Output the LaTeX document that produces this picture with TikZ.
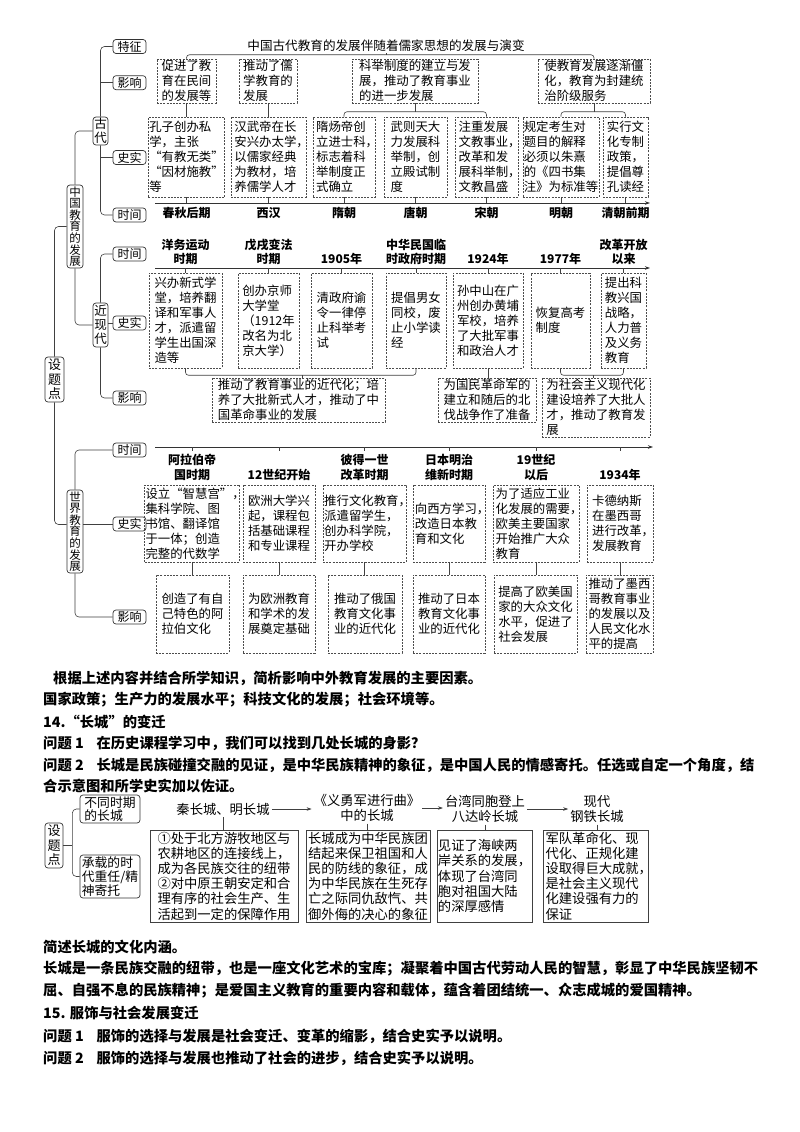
\documentclass[tikz,border=0pt]{standalone}
\usepackage{fontspec}
\setmainfont{Noto Sans CJK SC}
\usetikzlibrary{arrows.meta}
\newcommand\hc{\makebox[0.5em][l]{，}}
\newcommand\BX[7]{\node[#1, minimum width={(#4)-(#2)}, minimum height={(#5)-(#3)}] (#6) at ({((#2)+(#4))/2},{((#3)+(#5))/2}) {#7};}
\begin{document}
\begin{tikzpicture}[x=1pt,y=-1pt,
  conn/.style={line width=0.6pt, draw=black!75},
  rc/.style={conn, rounded corners=4pt},
  lbl/.style={draw=black!80, line width=0.7pt, rounded corners=3pt, inner sep=0.5pt, minimum width=33, minimum height=14, font=\fontsize{12}{13}\selectfont},
  vlbl/.style={draw=black!80, line width=0.7pt, rounded corners=3pt, inner sep=0.5pt, align=center},
  dbox/.style={draw=black!70, line width=0.55pt, dash pattern=on 2pt off 1.2pt, inner sep=1pt, align=left, font=\fontsize{12.4}{15}\selectfont},
  sbox/.style={draw=black!75, line width=0.6pt, inner sep=1pt, align=left, font=\fontsize{13.3}{15.2}\selectfont},
  tlab/.style={font=\bfseries\fontsize{12}{14.5}\selectfont, align=center, inner sep=1pt},
  tline/.style={line width=0.8pt, draw=black!80, -{Stealth[length=5pt,width=3.5pt]}},
  para/.style={anchor=west, inner sep=0pt, font=\bfseries\fontsize{14.3}{16}\selectfont},
  glab/.style={font=\fontsize{13.3}{14.5}\selectfont, align=center, inner sep=2pt},
]
\fill[white] (0,0) rectangle (800,1132);
\useasboundingbox (0,0) rectangle (800,1132);

% ---------- left tree ----------
\BX{vlbl, font=\fontsize{11.5}{11.6}\selectfont}{67}{185}{83}{268}{zg}{中\\国\\教\\育\\的\\发\\展}
\BX{vlbl, font=\fontsize{12.5}{13.5}\selectfont}{93}{117}{108}{145}{gd}{古\\代}
\BX{vlbl, font=\fontsize{12.5}{14}\selectfont}{93}{303}{108}{347}{jxd}{近\\现\\代}
\BX{vlbl, font=\fontsize{13}{14.5}\selectfont}{45}{357}{64}{402}{stp}{设\\题\\点}
\BX{vlbl, font=\fontsize{11.5}{11.6}\selectfont}{67}{490}{83}{573}{sjb}{世\\界\\教\\育\\的\\发\\展}

\node[lbl] (tz) at (129.5,46.5) {特征};
\node[lbl] (yxA) at (129.5,82.7) {影响};
\node[lbl] (ssA) at (129.5,157.5) {史实};
\node[lbl] (sjA) at (129.5,215) {时间};
\node[lbl] (tM) at (129.5,254) {时间};
\node[lbl] (ssM) at (129.5,323) {史实};
\node[lbl] (yxM) at (129.5,398) {影响};
\node[lbl] (tW) at (129.5,450) {时间};
\node[lbl] (ssW) at (129.5,524) {史实};
\node[lbl] (yxW) at (129.5,617) {影响};

\draw[rc] (tz.west) -| (gd.north);
\draw[conn] (yxA.west) -- (yxA.west -| gd.north);
\draw[conn] (ssA.west) -- (ssA.west -| gd.south);
\draw[rc] (gd.south) |- (sjA.west);
\draw[rc] (tM.west) -| (jxd.north);
\draw[conn] (ssM.west) -- (ssM.west -| jxd.east);
\draw[rc] (jxd.south) |- (yxM.west);
\draw[rc] (tW.west) -| (sjb.north);
\draw[conn] (ssW.west) -- (ssW.west -| sjb.east);
\draw[rc] (sjb.south) |- (yxW.west);
\draw[rc] (zg.north) |- (gd.west);
\draw[rc] (zg.south) |- (jxd.west);
\draw[rc] (zg.west) -| (stp.north);
\draw[rc] (stp.south) |- ([yshift=7pt]sjb.west);

% ---------- ancient ----------
\node[font=\fontsize{12.6}{14}\selectfont, inner sep=1pt] (ttl) at (386,46) {中国古代教育的发展伴随着儒家思想的发展与演变};
\BX{dbox}{157}{59}{216}{103}{iA1}{促进了教\\育在民间\\的发展等}
\BX{dbox}{239}{59}{297}{103}{iA2}{推动了儒\\学教育的\\发展}
\BX{dbox}{352}{59}{478}{103}{iA3}{科举制度的建立与发\\展，推动了教育事业\\的进一步发展}
\BX{dbox}{538}{59}{650}{103}{iA4}{使教育发展逐渐僵\\化，教育为封建统\\治阶级服务}
\draw[conn, rounded corners=3pt] (iA1.north) -- ++(0,-4) -| (iA4.north);
\draw[conn] (ttl.south) -- (ttl.south |- 0,55);

\BX{dbox}{149}{117}{224}{197}{sA1}{孔子创办私\\学，主张\\“有教无类”\\“因材施教”\\等}
\BX{dbox}{231}{117}{306}{197}{sA2}{汉武帝在长\\安兴办太学\hc\\以儒家经典\\为教材，培\\养儒学人才}
\BX{dbox}{313}{117}{375}{197}{sA3}{隋炀帝创\\立进士科\hc\\标志着科\\举制度正\\式确立}
\BX{dbox}{384}{117}{447}{197}{sA4}{武则天大\\力发展科\\举制，创\\立殿试制\\度}
\BX{dbox}{455}{117}{518}{197}{sA5}{注重发展\\文教事业\hc\\改革和发\\展科举制\hc\\文教昌盛}
\BX{dbox}{523}{117}{599}{197}{sA6}{规定考生对\\题目的解释\\必须以朱熹\\的《四书集\\注》为标准等}
\BX{dbox}{603}{117}{648}{197}{sA7}{实行文\\化专制\\政策，\\提倡尊\\孔读经}

\draw[conn] (iA1.south) -- (iA1.south |- sA1.north);
\draw[conn] (iA2.south) -- (iA2.south |- sA2.north);
\draw[conn, rounded corners=3pt] (sA3.north) -- ++(0,-5) -| (sA5.north);
\draw[conn] (iA3.south) -- ++(0,9);
\draw[conn, rounded corners=3pt] (sA6.north) -- ++(0,-5) -| (sA7.north);
\draw[conn] (iA4.south) -- ++(0,9);

\coordinate (tA0) at (155,203);
\coordinate (tA1) at (650,203);
\draw[tline] (tA0) -- (tA1);
\foreach \n/\t in {sA1/春秋后期, sA2/西汉, sA3/隋朝, sA4/唐朝, sA5/宋朝, sA6/明朝, sA7/清朝前期}{
  \draw[conn] (\n.south) -- (\n.south |- tA0);
  \path (\n.south |- tA0) node[tlab, below=3pt] (l-\n) {\t};
}

% ---------- modern ----------
\coordinate (tM0) at (155,268);
\coordinate (tM1) at (650,268);
\draw[tline] (tM0) -- (tM1);
\BX{dbox}{149}{273}{222}{368}{sM1}{兴办新式学\\堂，培养翻\\译和军事人\\才，派遣留\\学生出国深\\造等}
\BX{dbox}{238}{273}{299}{368}{sM2}{创办京师\\大学堂\\（1912年\\改名为北\\京大学）}
\BX{dbox}{311}{273}{372}{368}{sM3}{清政府谕\\令一律停\\止科举考\\试}
\BX{dbox}{386}{273}{446}{368}{sM4}{提倡男女\\同校，废\\止小学读\\经}
\BX{dbox}{453}{273}{523}{368}{sM5}{孙中山在广\\州创办黄埔\\军校，培养\\了大批军事\\和政治人才}
\BX{dbox}{531}{273}{590}{368}{sM6}{恢复高考\\制度}
\BX{dbox}{601}{273}{646}{368}{sM7}{提出科\\教兴国\\战略，\\人力普\\及义务\\教育}
\foreach \n/\t in {sM1/{洋务运动\\时期}, sM2/{戊戌变法\\时期}, sM3/{1905年}, sM4/{中华民国临\\时政府时期}, sM5/{1924年}, sM6/{1977年}, sM7/{改革开放\\以来}}{
  \draw[conn] (\n.north) -- (\n.north |- tM0);
  \path (\n.north |- tM0) node[tlab, above=2pt] (l-\n) {\t};
}
\BX{dbox}{212}{378}{385}{422}{iM1}{推动了教育事业的近代化；培\\养了大批新式人才，推动了中\\国革命事业的发展}
\BX{dbox}{438}{378}{536}{422}{iM2}{为国民革命军的\\建立和随后的北\\伐战争作了准备}
\BX{dbox}{542}{378}{650}{437}{iM3}{为社会主义现代化\\建设培养了大批人\\才，推动了教育发\\展}
\draw[conn, rounded corners=3pt] (sM1.south) -- ++(0,7) -| (sM4.south);
\draw[conn] ([xshift=4pt]iM1.north) -- ++(0,-3);
\draw[conn] (sM5.south) -- (sM5.south |- iM2.north);
\draw[conn, rounded corners=3pt] (sM6.south) -- ++(0,7) -| (sM7.south);
\draw[conn] ([xshift=-3pt]iM3.north) -- ++(0,-3);

% ---------- world ----------
\coordinate (tW0) at (155,447);
\coordinate (tW1) at (653,447);
\draw[tline] (tW0) -- (tW1);
\BX{dbox}{148}{485}{236}{562}{sW1}{设立“智慧宫”\hc\\集科学院、图\\书馆、翻译馆\\于一体；创造\\完整的代数学}
\BX{dbox}{243}{485}{315}{562}{sW2}{欧洲大学兴\\起，课程包\\括基础课程\\和专业课程}
\BX{dbox}{323}{485}{406}{562}{sW3}{推行文化教育\hc\\派遣留学生\hc\\创办科学院\hc\\开办学校}
\BX{dbox}{413}{485}{485}{562}{sW4}{向西方学习\hc\\改造日本教\\育和文化}
\BX{dbox}{493}{485}{579}{562}{sW5}{为了适应工业\\化发展的需要\hc\\欧美主要国家\\开始推广大众\\教育}
\BX{dbox}{587}{485}{653}{562}{sW6}{卡德纳斯\\在墨西哥\\进行改革\hc\\发展教育}
\BX{dbox}{156}{575}{229}{653}{iW1}{创造了有自\\己特色的阿\\拉伯文化}
\BX{dbox}{243}{575}{315}{653}{iW2}{为欧洲教育\\和学术的发\\展奠定基础}
\BX{dbox}{328}{575}{402}{653}{iW3}{推动了俄国\\教育文化事\\业的近代化}
\BX{dbox}{413}{575}{485}{653}{iW4}{推动了日本\\教育文化事\\业的近代化}
\BX{dbox}{494}{575}{577}{653}{iW5}{提高了欧美国\\家的大众文化\\水平，促进了\\社会发展}
\BX{dbox}{586}{575}{653}{653}{iW6}{推动了墨西\\哥教育事业\\的发展以及\\人民文化水\\平的提高}
\foreach \n/\m/\t in {sW1/iW1/{阿拉伯帝\\国时期}, sW2/iW2/{12世纪开始}, sW3/iW3/{彼得一世\\改革时期}, sW4/iW4/{日本明治\\维新时期}, sW5/iW5/{19世纪\\以后}, sW6/iW6/{1934年}}{
  \draw[conn] (\n.north |- tW0) -- ++(0,4);
  \path (\n.north) node[tlab, above=3pt] (l-\n) {\t};
  \draw[conn] (\n.south) -- (\n.south |- \m.north);
}

% ---------- paragraphs ----------
\node[para] (p1) at (53,678) {根据上述内容并结合所学知识，简析影响中外教育发展的主要因素。};
\node[para] (p2) at (43,700) {国家政策；生产力的发展水平；科技文化的发展；社会环境等。};
\node[para] (p3) at (43,722) {14.“长城”的变迁};
\node[para] (p4) at (43,743) {问题 1\hspace{0.9em}在历史课程学习中，我们可以找到几处长城的身影？};
\node[para] (p5) at (43,765) {问题 2\hspace{0.9em}长城是民族碰撞交融的见证，是中华民族精神的象征，是中国人民的情感寄托。任选或自定一个角度，结};
\node[para] (p6) at (43,786) {合示意图和所学史实加以佐证。};

% ---------- great wall ----------
\BX{vlbl, font=\fontsize{13}{14.5}\selectfont}{45}{823}{63}{868}{stp2}{设\\题\\点}
\BX{vlbl, align=left, font=\fontsize{12.8}{13.5}\selectfont}{80}{795}{140}{823}{bt}{不同时期\\的长城}
\BX{vlbl, align=left, font=\fontsize{12.8}{14}\selectfont}{80}{855}{140}{898}{cz}{承载的时\\代重任/精\\神寄托}
\draw[rc] (bt.west) -| ([xshift=9pt]stp2.east) |- (cz.west);
\draw[conn] (stp2.east) -- ++(9,0);

\node[glab] (g1) at (223,809) {秦长城、明长城};
\node[glab] (g2) at (367,808) {《义勇军进行曲》\\中的长城};
\node[glab] (g3) at (485,809) {台湾同胞登上\\八达岭长城};
\node[glab] (g4) at (597,809) {现代\\钢铁长城};
\draw[conn, -{Stealth[length=5pt,width=3.5pt]}] (g1.east) -- (g1.east -| g2.west);
\draw[conn, -{Stealth[length=5pt,width=3.5pt]}] (g2.east) -- (g2.east -| g3.west);
\draw[conn, -{Stealth[length=5pt,width=3.5pt]}] (g3.east) -- (g3.east -| g4.west);

\BX{sbox}{150}{830}{298}{922}{b1}{①处于北方游牧地区与\\农耕地区的连接线上，\\成为各民族交往的纽带\\②对中原王朝安定和合\\理有序的社会生产、生\\活起到一定的保障作用}
\BX{sbox}{306}{830}{430}{922}{b2}{长城成为中华民族团\\结起来保卫祖国和人\\民的防线的象征，成\\为中华民族在生死存\\亡之际同仇敌忾、共\\御外侮的决心的象征}
\BX{sbox}{437}{830}{532}{922}{b3}{见证了海峡两\\岸关系的发展，\\体现了台湾同\\胞对祖国大陆\\的深厚感情}
\BX{sbox}{543}{830}{648}{922}{b4}{军队革命化、现\\代化、正规化建\\设取得巨大成就\hc\\是社会主义现代\\化建设强有力的\\保证}
\draw[conn] (g1.south) -- (g1.south |- b1.north);
\draw[conn] (g2.south) -- (g2.south |- b2.north);
\draw[conn] (g3.south) -- (g3.south |- b3.north);
\draw[conn] (g4.south) -- (g4.south |- b4.north);

\node[para] (p7) at (43,947) {简述长城的文化内涵。};
\node[para] (p8) at (43,969) {长城是一条民族交融的纽带，也是一座文化艺术的宝库；凝聚着中国古代劳动人民的智慧，彰显了中华民族坚韧不};
\node[para] (p9) at (43,991) {屈、自强不息的民族精神；是爱国主义教育的重要内容和载体，蕴含着团结统一、众志成城的爱国精神。};
\node[para] (p10) at (43,1013) {15. 服饰与社会发展变迁};
\node[para] (p11) at (43,1036) {问题 1\hspace{0.9em}服饰的选择与发展是社会变迁、变革的缩影，结合史实予以说明。};
\node[para] (p12) at (43,1058) {问题 2\hspace{0.9em}服饰的选择与发展也推动了社会的进步，结合史实予以说明。};
\end{tikzpicture}
\end{document}
